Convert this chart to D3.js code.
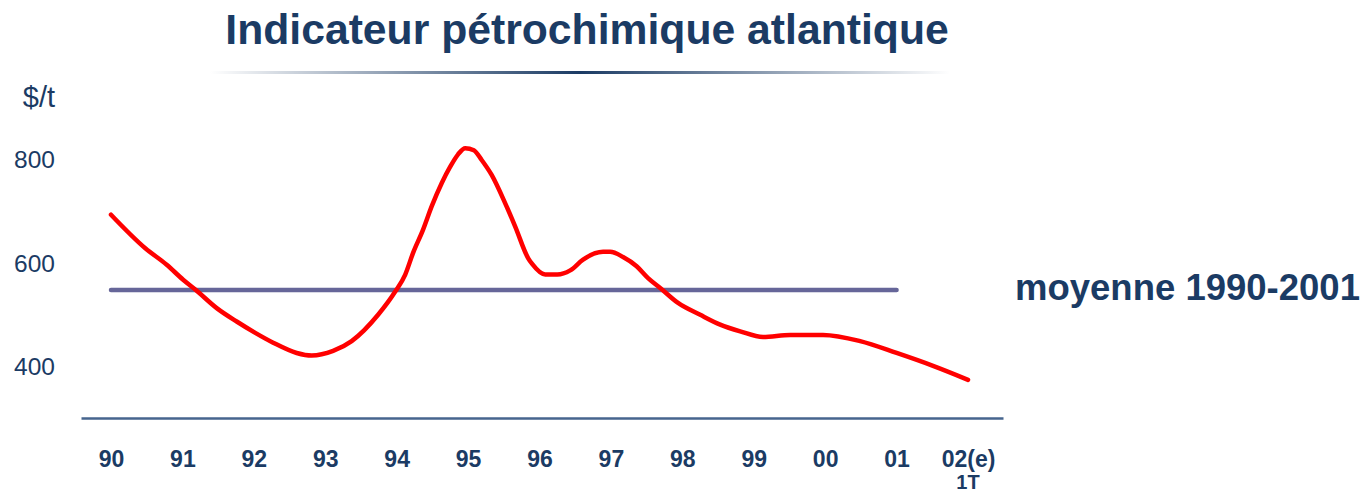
<!DOCTYPE html>
<html>
<head>
<meta charset="utf-8">
<script src="https://cdn.jsdelivr.net/npm/d3@7"></script>
<style>
  body { margin: 0; background: #fff; }
  svg { display: block; font-family: "Liberation Sans", Arial, sans-serif; }
</style>
</head>
<body>
<div id="chart"></div>
<script>
// traced curve: position in years (1990 = 90) and value in $/t
var periods = [1990, 1990.48, 1990.78, 1991.01, 1991.18, 1991.48, 1991.76, 1992.02, 1992.27, 1992.6,
    1992.81, 1993.11, 1993.37, 1993.74, 1993.98, 1994.12, 1994.23, 1994.37, 1994.49, 1994.63,
    1994.75, 1994.86, 1994.96, 1995.08, 1995.19, 1995.33, 1995.52, 1995.66, 1995.84, 1995.9,
    1996.08, 1996.25, 1996.43, 1996.61, 1996.89, 1996.99, 1997.17, 1997.36, 1997.52, 1997.69,
    1997.94, 1998.25, 1998.53, 1998.81, 1999.13, 1999.51, 1999.97, 2000.49, 2001.0, 2001.51, 2002.0];
var values = [694, 629, 597, 568, 549, 513, 487, 465, 446, 426,
    421, 430, 449, 500, 545, 578, 620, 665, 710, 755,
    787, 811, 823, 819, 800, 771, 716, 671, 610, 598,
    578, 578, 586, 607, 622, 622, 612, 594, 571, 552,
    523, 500, 481, 468, 457, 461, 461, 449, 426, 401, 374];

var averageValue = 548;
var averageSpan = [1990, 2001];
var averageLabel = "moyenne 1990-2001";

var tickYears = [1990, 1991, 1992, 1993, 1994, 1995, 1996, 1997, 1998, 1999, 2000, 2001, 2002];
var tickLabels = ["90", "91", "92", "93", "94", "95", "96", "97", "98", "99", "00", "01", "02(e)"];
var yTicks = [400, 600, 800];

var titleText = "Indicateur pétrochimique atlantique";
var unitText = "$/t";

var width = 1364, height = 492;
var navy = "#1b3b64";

var svg = d3.select("#chart").append("svg")
    .attr("width", width)
    .attr("height", height);

// scales
var x = d3.scaleLinear().domain([1989.58, 2002.49]).range([81, 1003]);
var y = d3.scaleLinear().domain([300, 800]).range([418, 160]);

// title + gradient rule
svg.append("text")
    .attr("x", 587)
    .attr("y", 44)
    .attr("text-anchor", "middle")
    .style("font-size", "42.7px")
    .style("font-weight", "bold")
    .style("fill", navy)
    .text(titleText);

var grad = svg.append("defs").append("linearGradient")
    .attr("id", "titleRule")
    .attr("x1", "0%").attr("x2", "100%");
grad.append("stop").attr("offset", "0%").attr("stop-color", "#ffffff");
grad.append("stop").attr("offset", "50%").attr("stop-color", navy);
grad.append("stop").attr("offset", "100%").attr("stop-color", "#ffffff");

svg.append("rect")
    .attr("x", 210)
    .attr("y", 71)
    .attr("width", 740)
    .attr("height", 3)
    .style("fill", "url(#titleRule)");

// y axis (labels only)
svg.append("text")
    .attr("x", 55)
    .attr("y", 107)
    .attr("text-anchor", "end")
    .style("font-size", "29px")
    .style("fill", navy)
    .text(unitText);

var yAxis = d3.axisLeft(y).tickValues(yTicks).tickSize(0).tickPadding(0);
var gy = svg.append("g")
    .attr("transform", "translate(55,0)")
    .call(yAxis);
gy.select(".domain").remove();
gy.selectAll("text")
    .style("font-size", "24.5px")
    .style("font-family", "'Liberation Sans', Arial, sans-serif")
    .style("fill", navy);

// x axis
var xAxis = d3.axisBottom(x).tickValues(tickYears)
    .tickFormat(function(d, i) { return tickLabels[i]; })
    .tickSize(0).tickPadding(33);
var gx = svg.append("g")
    .attr("transform", "translate(0,418)")
    .call(xAxis);
gx.select(".domain")
    .attr("stroke", "#46658e")
    .attr("stroke-width", 2.4);
gx.selectAll("text")
    .style("font-size", "23px")
    .style("font-weight", "bold")
    .style("font-family", "'Liberation Sans', Arial, sans-serif")
    .style("fill", navy);

// "1T" under last label
svg.append("text")
    .attr("x", x(2002))
    .attr("y", 489)
    .attr("text-anchor", "middle")
    .style("font-size", "20px")
    .style("font-weight", "bold")
    .style("fill", navy)
    .text("1T");

// average line
svg.append("line")
    .attr("x1", x(averageSpan[0]))
    .attr("x2", x(averageSpan[1]))
    .attr("y1", y(averageValue))
    .attr("y2", y(averageValue))
    .attr("stroke", "#666699")
    .attr("stroke-width", 4.5)
    .attr("stroke-linecap", "round");

// indicator curve
var data = periods.map(function(p, i) { return { t: p, v: values[i] }; });
var line = d3.line()
    .x(function(d) { return x(d.t); })
    .y(function(d) { return y(d.v); })
    .curve(d3.curveMonotoneX);

svg.append("path")
    .datum(data)
    .attr("d", line)
    .attr("fill", "none")
    .attr("stroke", "#ff0000")
    .attr("stroke-width", 4.5)
    .attr("stroke-linecap", "round")
    .attr("stroke-linejoin", "round");

// average label
svg.append("text")
    .attr("x", 1015)
    .attr("y", 300)
    .style("font-size", "36.5px")
    .style("font-weight", "bold")
    .style("fill", navy)
    .text(averageLabel);
</script>
</body>
</html>
